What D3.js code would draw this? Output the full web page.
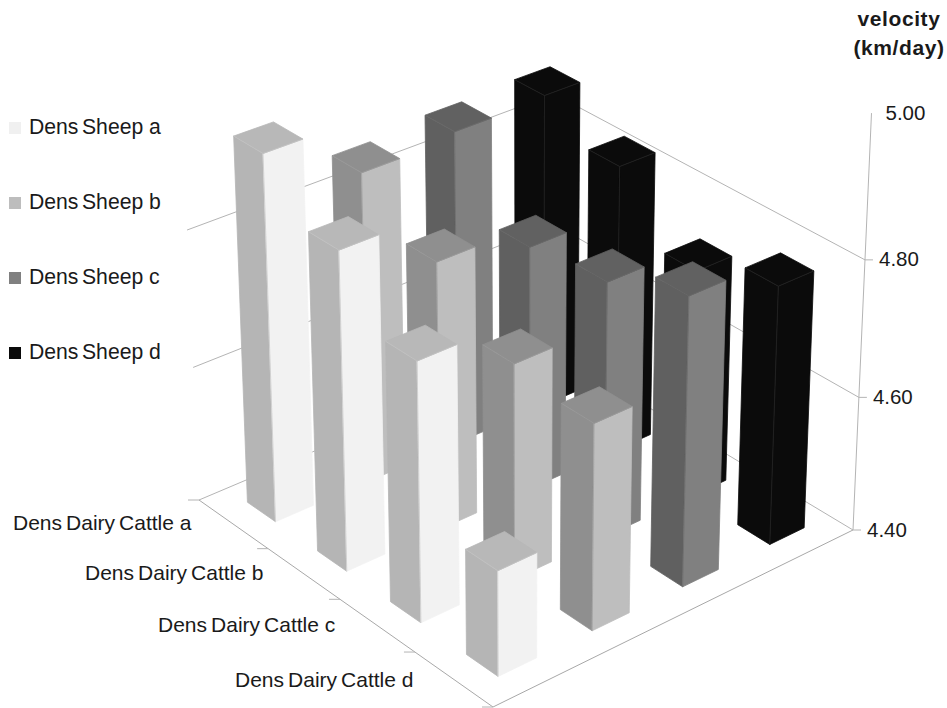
<!DOCTYPE html>
<html>
<head>
<meta charset="utf-8">
<script src="https://cdn.jsdelivr.net/npm/d3@7/dist/d3.min.js"></script>
<style>
html,body{margin:0;padding:0;background:#fff}
svg{display:block}
text{font-family:"Liberation Sans",Arial,sans-serif;fill:#1a1a1a}
</style>
</head>
<body>
<svg id="chart" width="947" height="708"></svg>
<script>
// ---- data ----
const sheepLevels = ["DensSheep a", "DensSheep b", "DensSheep c", "DensSheep d"];
const cattleLevels = ["DensDairyCattle a", "DensDairyCattle b", "DensDairyCattle c", "DensDairyCattle d"];
const velocityTicks = [4.4, 4.6, 4.8, 5.0];
// one value per DensDairyCattle level (a..d)
const velocitySheepA = [4.932, 4.862, 4.776, 4.553];
const velocitySheepB = [4.857, 4.794, 4.715, 4.700];
const velocitySheepC = [4.866, 4.762, 4.776, 4.821];
const velocitySheepD = [4.870, 4.827, 4.738, 4.781];
const velocityBySheep = [velocitySheepA, velocitySheepB, velocitySheepC, velocitySheepD];

// ---- styles ----
const faceRight = ["#f2f2f2", "#bebebe", "#808080", "#0b0b0b"];
const faceLeft  = ["#b5b5b5", "#8f8f8f", "#606060", "#0b0b0b"];
const faceTop   = ["#b8b8b8", "#8f8f8f", "#616161", "#0b0b0b"];
const faceEdge  = ["#c4c4c4", "#9c9c9c", "#6c6c6c", "#2a2a2a"];
const swatch    = ["#f0f0f0", "#bdbdbd", "#808080", "#0a0a0a"];

// ---- perspective projection (floor homography plus vertical vanishing point) ----
const corner = {L:[199,500], B:[553,350], R:[853,530], F:[493,707]};
const vanish = [526, 7900];
const dx1 = corner.B[0]-corner.R[0], dx2 = corner.F[0]-corner.R[0];
const dy1 = corner.B[1]-corner.R[1], dy2 = corner.F[1]-corner.R[1];
const sx = corner.L[0]-corner.B[0]+corner.R[0]-corner.F[0];
const sy = corner.L[1]-corner.B[1]+corner.R[1]-corner.F[1];
const den = dx1*dy2-dx2*dy1;
const g = (sx*dy2-dx2*sy)/den, h = (dx1*sy-sx*dy1)/den;
const ha = corner.B[0]-corner.L[0]+g*corner.B[0], hb = corner.F[0]-corner.L[0]+h*corner.F[0];
const hd = corner.B[1]-corner.L[1]+g*corner.B[1], he = corner.F[1]-corner.L[1]+h*corner.F[1];

const uScale = d3.scaleBand().domain(sheepLevels).range([0,1]).paddingInner(0.595).paddingOuter(0.2975);
const vScale = d3.scaleBand().domain(cattleLevels).range([0,1]).paddingInner(0.595).paddingOuter(0.2975);
const zScale = d3.scaleLinear().domain([4.4,4.8,5.0]).range([0,-0.0352,-0.0533]);

function project(u,v,value){
  const z = zScale(value);
  const w = 1+g*u+h*v+z;
  return [(ha*u+hb*v+corner.L[0]+z*vanish[0])/w, (hd*u+he*v+corner.L[1]+z*vanish[1])/w];
}

const svg = d3.select("#chart");
const line = d3.line();

// ---- walls and floor ----
const gridG = svg.append("g").attr("fill","none");
[4.4,4.6,4.8].forEach(t=>{
  gridG.append("path").attr("d",line([project(0,0,t),project(1,0,t),project(1,1,t)]))
    .attr("stroke","#b4b4b4").attr("stroke-width",1);
});
gridG.append("path").attr("d",line([project(0,0,4.4),project(0,1,4.4),project(1,1,4.4)]))
  .attr("stroke","#a8a8a8").attr("stroke-width",1);
gridG.append("path").attr("d",line([project(1,1,4.4),project(1,1,5.0)]))
  .attr("stroke","#b4b4b4").attr("stroke-width",1);

// velocity ticks and labels
velocityTicks.forEach(t=>{
  const p = project(1,1,t);
  if (t < 5) gridG.append("path").attr("d",line([p,[p[0]+8,p[1]]])).attr("stroke","#b4b4b4");
  svg.append("text").attr("x",p[0]+14).attr("y",p[1]+6.5).attr("font-size",20.5).text(t.toFixed(2));
});

// cattle ticks and labels
const cattleLabelPos = [[13,530],[85,580],[158,632],[235,687]];
[0,0.25,0.5,0.75,1].forEach(v=>{
  const p = project(0,v,4.4);
  gridG.append("path").attr("d",line([p,[p[0]-11,p[1]]])).attr("stroke","#b4b4b4");
});
function spacedLabel(x,y,parts,gap,size){
  const t = svg.append("text").attr("x",x).attr("y",y).attr("font-size",size);
  parts.forEach((s,i)=>t.append("tspan").attr("dx",i?gap:0).text(s));
  return t;
}
cattleLevels.forEach((c,i)=>{
  const parts = [c.slice(0,4), c.slice(4,9), c.slice(9)];
  spacedLabel(cattleLabelPos[i][0],cattleLabelPos[i][1],parts,4,21);
});

// ---- bars: painted from the back corner to the front ----
const bars = [];
cattleLevels.forEach((c,i)=>sheepLevels.forEach((s,j)=>bars.push({c,s,i,j,value:velocityBySheep[j][i]})));
bars.sort((a,b)=>(a.i-a.j)-(b.i-b.j) || a.i-b.i);

const barG = svg.append("g");
bars.forEach(d=>{
  const u0=uScale(d.s), u1=u0+uScale.bandwidth();
  const v0=vScale(d.c), v1=v0+vScale.bandwidth();
  const base=4.4, top=d.value;
  const g1=barG.append("g").attr("stroke-width",0.8).attr("stroke-linejoin","round");
  const poly=(pts,fill)=>g1.append("path").attr("d",line(pts)+"Z").attr("fill",fill).attr("stroke",fill);
  poly([project(u0,v0,base),project(u0,v1,base),project(u0,v1,top),project(u0,v0,top)],faceLeft[d.j]);
  poly([project(u0,v1,base),project(u1,v1,base),project(u1,v1,top),project(u0,v1,top)],faceRight[d.j]);
  poly([project(u0,v0,top),project(u0,v1,top),project(u1,v1,top),project(u1,v0,top)],faceTop[d.j]);
  g1.append("path").attr("fill","none").attr("stroke",faceEdge[d.j]).attr("stroke-width",0.7)
    .attr("d",line([project(u0,v0,top),project(u0,v1,top),project(u1,v1,top)]));
  g1.append("path").attr("fill","none").attr("stroke",faceEdge[d.j]).attr("stroke-width",0.7)
    .attr("d",line([project(u0,v1,top),project(u0,v1,base)]));
});

// ---- legend ----
const legendY = d3.scalePoint().domain(sheepLevels).range([128,353]);
sheepLevels.forEach((s,i)=>{
  const y = legendY(s);
  svg.append("rect").attr("x",9).attr("y",y-6).attr("width",12).attr("height",12).attr("fill",swatch[i]);
  spacedLabel(29,y+6,[s.slice(0,4),s.slice(4)],3.5,21.2);
});

// ---- title ----
svg.append("text").attr("x",899).attr("y",26).attr("text-anchor","middle")
  .attr("font-size",21).attr("font-weight","bold").attr("letter-spacing",0.6).text("velocity");
svg.append("text").attr("x",899).attr("y",55).attr("text-anchor","middle")
  .attr("font-size",21).attr("font-weight","bold").attr("letter-spacing",0.6).text("(km/day)");
</script>
</body>
</html>
